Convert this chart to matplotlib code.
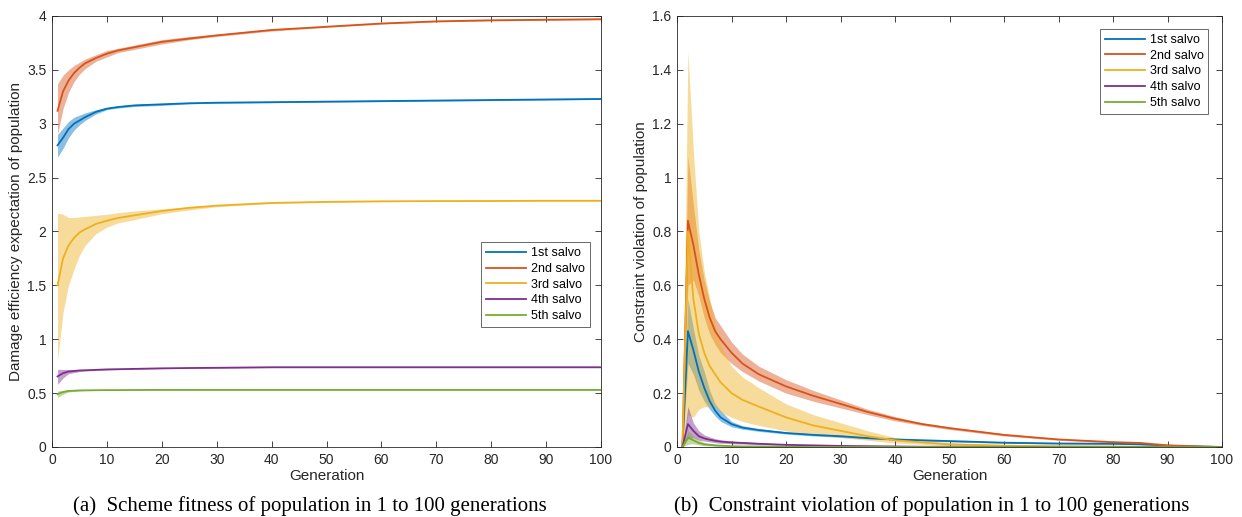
import numpy as np
import matplotlib
matplotlib.use("Agg")
import matplotlib.pyplot as plt
from matplotlib.ticker import FuncFormatter

# series names and MATLAB default colours
salvos = ['1st salvo', '2nd salvo', '3rd salvo', '4th salvo', '5th salvo']
colors = ['#0072BD', '#D95319', '#EDB120', '#7E2F8E', '#77AC30']

# ---- (a) scheme fitness ----
gen_a = [1, 2, 3, 4, 5, 6, 8, 10, 12, 15, 20, 25, 30, 40, 50, 60, 70, 80, 90, 100]

fit_mean = [
    [2.80, 2.87, 2.95, 3.00, 3.03, 3.06, 3.11, 3.14, 3.155, 3.17, 3.18, 3.19, 3.195, 3.20, 3.205, 3.21, 3.215, 3.22, 3.225, 3.23],
    [3.12, 3.30, 3.40, 3.47, 3.52, 3.56, 3.61, 3.65, 3.68, 3.71, 3.76, 3.79, 3.82, 3.87, 3.90, 3.93, 3.95, 3.96, 3.965, 3.97],
    [1.50, 1.75, 1.87, 1.94, 1.99, 2.02, 2.07, 2.10, 2.125, 2.15, 2.19, 2.22, 2.24, 2.265, 2.275, 2.28, 2.282, 2.283, 2.285, 2.285],
    [0.655, 0.685, 0.70, 0.705, 0.71, 0.712, 0.716, 0.72, 0.722, 0.725, 0.73, 0.733, 0.735, 0.74, 0.74, 0.74, 0.74, 0.74, 0.74, 0.74],
    [0.49, 0.51, 0.52, 0.522, 0.525, 0.526, 0.527, 0.528, 0.528, 0.529, 0.53, 0.53, 0.53, 0.53, 0.53, 0.53, 0.53, 0.53, 0.53, 0.53],
]
fit_lo = [
    [2.69, 2.77, 2.87, 2.94, 2.99, 3.03, 3.09, 3.13, 3.145, 3.16, 3.17, 3.185, 3.19, 3.195, 3.20, 3.205, 3.21, 3.215, 3.22, 3.225],
    [2.90, 3.14, 3.29, 3.39, 3.46, 3.51, 3.58, 3.62, 3.66, 3.69, 3.74, 3.78, 3.81, 3.86, 3.895, 3.925, 3.945, 3.955, 3.96, 3.965],
    [0.80, 1.25, 1.50, 1.65, 1.78, 1.87, 1.98, 2.04, 2.08, 2.11, 2.165, 2.20, 2.23, 2.26, 2.27, 2.277, 2.28, 2.281, 2.283, 2.283],
    [0.58, 0.64, 0.68, 0.69, 0.70, 0.705, 0.71, 0.715, 0.718, 0.721, 0.727, 0.73, 0.732, 0.737, 0.737, 0.737, 0.737, 0.737, 0.737, 0.737],
    [0.46, 0.49, 0.51, 0.515, 0.52, 0.522, 0.524, 0.525, 0.526, 0.527, 0.528, 0.528, 0.528, 0.528, 0.528, 0.528, 0.528, 0.528, 0.528, 0.528],
]
fit_hi = [
    [2.90, 2.96, 3.02, 3.06, 3.08, 3.10, 3.13, 3.15, 3.165, 3.18, 3.19, 3.195, 3.20, 3.205, 3.21, 3.215, 3.22, 3.225, 3.23, 3.235],
    [3.37, 3.45, 3.50, 3.54, 3.57, 3.60, 3.64, 3.68, 3.70, 3.73, 3.78, 3.81, 3.83, 3.88, 3.905, 3.935, 3.955, 3.965, 3.97, 3.975],
    [2.17, 2.16, 2.13, 2.13, 2.135, 2.14, 2.15, 2.16, 2.175, 2.19, 2.21, 2.23, 2.245, 2.27, 2.28, 2.283, 2.285, 2.286, 2.287, 2.287],
    [0.72, 0.72, 0.72, 0.72, 0.72, 0.72, 0.722, 0.725, 0.726, 0.729, 0.733, 0.736, 0.738, 0.743, 0.743, 0.743, 0.743, 0.743, 0.743, 0.743],
    [0.52, 0.525, 0.53, 0.53, 0.53, 0.53, 0.531, 0.531, 0.531, 0.531, 0.532, 0.532, 0.532, 0.532, 0.532, 0.532, 0.532, 0.532, 0.532, 0.532],
]

# ---- (b) constraint violation ----
gen_b = [1, 2, 3, 4, 5, 6, 7, 8, 10, 12, 15, 20, 25, 30, 35, 40, 45, 50, 60, 70, 80, 85, 90, 95, 100]

cv_mean = [
    [0, 0.43, 0.36, 0.28, 0.22, 0.17, 0.135, 0.11, 0.085, 0.072, 0.063, 0.052, 0.045, 0.04, 0.033, 0.028, 0.025, 0.022, 0.016, 0.013, 0.012, 0.01, 0.005, 0.002, 0],
    [0, 0.84, 0.75, 0.64, 0.55, 0.48, 0.43, 0.40, 0.35, 0.31, 0.27, 0.225, 0.19, 0.16, 0.13, 0.105, 0.085, 0.07, 0.045, 0.028, 0.018, 0.015, 0.006, 0.003, 0.0],
    [0, 0.80, 0.55, 0.42, 0.35, 0.30, 0.27, 0.24, 0.20, 0.175, 0.15, 0.11, 0.08, 0.06, 0.04, 0.025, 0.017, 0.01, 0.005, 0.003, 0.002, 0.001, 0.001, 0, 0],
    [0, 0.085, 0.06, 0.04, 0.032, 0.027, 0.023, 0.02, 0.017, 0.015, 0.012, 0.008, 0.006, 0.004, 0.003, 0.002, 0.001, 0.001, 0, 0, 0, 0, 0, 0, 0],
    [0, 0.035, 0.025, 0.015, 0.01, 0.008, 0.006, 0.005, 0.003, 0.002, 0.002, 0.001, 0, 0, 0, 0, 0, 0, 0, 0, 0, 0, 0, 0, 0],
]
cv_lo = [
    [0, 0.31, 0.27, 0.21, 0.17, 0.14, 0.115, 0.095, 0.075, 0.066, 0.058, 0.048, 0.041, 0.036, 0.03, 0.025, 0.022, 0.019, 0.014, 0.011, 0.01, 0.008, 0.004, 0.001, 0],
    [0, 0.60, 0.62, 0.56, 0.48, 0.42, 0.38, 0.35, 0.31, 0.28, 0.245, 0.20, 0.17, 0.145, 0.12, 0.097, 0.08, 0.065, 0.041, 0.025, 0.016, 0.013, 0.005, 0.002, 0],
    [0, 0.12, 0.11, 0.14, 0.15, 0.15, 0.15, 0.13, 0.11, 0.095, 0.08, 0.06, 0.045, 0.035, 0.025, 0.015, 0.01, 0.005, 0.002, 0.001, 0, 0, 0, 0, 0],
    [0, 0.03, 0.035, 0.025, 0.022, 0.019, 0.016, 0.014, 0.012, 0.011, 0.009, 0.006, 0.004, 0.003, 0.002, 0.001, 0, 0, 0, 0, 0, 0, 0, 0, 0],
    [0, 0.01, 0.012, 0.008, 0.005, 0.004, 0.003, 0.002, 0.001, 0.001, 0, 0, 0, 0, 0, 0, 0, 0, 0, 0, 0, 0, 0, 0, 0],
]
cv_hi = [
    [0, 0.55, 0.44, 0.34, 0.28, 0.21, 0.16, 0.135, 0.095, 0.079, 0.068, 0.056, 0.049, 0.044, 0.037, 0.031, 0.028, 0.025, 0.018, 0.015, 0.014, 0.012, 0.006, 0.003, 0],
    [0, 1.08, 0.90, 0.73, 0.62, 0.54, 0.48, 0.45, 0.39, 0.345, 0.30, 0.25, 0.21, 0.175, 0.14, 0.113, 0.09, 0.075, 0.049, 0.031, 0.02, 0.017, 0.007, 0.004, 0],
    [0, 1.47, 1.10, 0.80, 0.65, 0.55, 0.45, 0.38, 0.30, 0.26, 0.22, 0.16, 0.12, 0.09, 0.06, 0.035, 0.025, 0.015, 0.008, 0.005, 0.003, 0.002, 0.001, 0, 0],
    [0, 0.15, 0.09, 0.06, 0.045, 0.037, 0.031, 0.027, 0.022, 0.02, 0.016, 0.011, 0.008, 0.006, 0.004, 0.003, 0.002, 0.001, 0.001, 0, 0, 0, 0, 0, 0],
    [0, 0.06, 0.04, 0.025, 0.017, 0.013, 0.01, 0.008, 0.005, 0.004, 0.003, 0.002, 0.001, 0, 0, 0, 0, 0, 0, 0, 0, 0, 0, 0, 0],
]

plt.rcParams['font.family'] = ['Liberation Sans', 'DejaVu Sans']

fig = plt.figure(figsize=(12.42, 5.17), dpi=100)
ax_a = fig.add_axes([0.0419, 0.1354, 0.4420, 0.8337])
ax_b = fig.add_axes([0.5451, 0.1354, 0.4388, 0.8337])

def g_fmt(v, pos):
    return '%g' % round(v, 3)

def style_axes(ax, ylim, ystep):
    ax.set_xlim(0, 100)
    ax.set_ylim(*ylim)
    ax.set_xticks(np.arange(0, 101, 10))
    ax.set_yticks(np.arange(ylim[0], ylim[1] + 1e-9, ystep))
    ax.yaxis.set_major_formatter(FuncFormatter(g_fmt))
    ax.tick_params(direction='in', top=True, right=True, length=4, width=0.6,
                   labelsize=10, colors='#262626', pad=4)
    for s in ax.spines.values():
        s.set_color('#262626')
        s.set_linewidth(0.6)
    ax.set_xlabel('Generation', fontsize=11, color='#262626', labelpad=2)

def draw(ax, gens, means, los, his):
    for i in range(len(salvos)):
        ax.fill_between(gens, los[i], his[i], color=colors[i], alpha=0.45, lw=0)
    for i in range(len(salvos)):
        ax.plot(gens, means[i], color=colors[i], lw=1.3, label=salvos[i])

def add_legend(ax, loc, anchor):
    leg = ax.legend(loc=loc, bbox_to_anchor=anchor, fontsize=9,
                    frameon=True, fancybox=False, handlelength=3.2, borderpad=0.4,
                    labelspacing=0.3, handletextpad=0.4, borderaxespad=0)
    leg.get_frame().set_edgecolor('#262626')
    leg.get_frame().set_linewidth(0.6)

draw(ax_a, gen_a, fit_mean, fit_lo, fit_hi)
style_axes(ax_a, (0, 4), 0.5)
ax_a.set_ylabel('Damage efficiency expectation of population', fontsize=11, color='#262626', labelpad=3)
add_legend(ax_a, 'lower right', (0.98, 0.278))

draw(ax_b, gen_b, cv_mean, cv_lo, cv_hi)
style_axes(ax_b, (0, 1.6), 0.2)
ax_b.set_ylabel('Constraint violation of population', fontsize=11, color='#262626', labelpad=3)
add_legend(ax_b, 'upper right', (0.975, 0.97))

# captions
fig.text(0.2496, 0.021, '(a)  Scheme fitness of population in 1 to 100 generations',
         ha='center', va='center', fontsize=15, family='Liberation Serif')
fig.text(0.7504, 0.021, '(b)  Constraint violation of population in 1 to 100 generations',
         ha='center', va='center', fontsize=15, family='Liberation Serif')

fig.savefig('out.png', dpi=100)
